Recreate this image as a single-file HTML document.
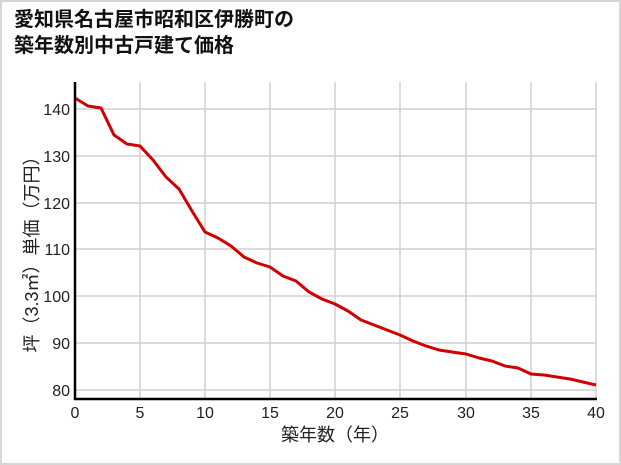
<!DOCTYPE html>
<html><head><meta charset="utf-8"><style>
body{margin:0;background:#fff}
.wrap{position:relative;width:621px;height:465px;box-sizing:border-box;border:2px solid #d6d6d6;background:#fff;overflow:hidden}
.t{position:absolute;left:12px;top:5px;font:bold 20px/26px "Liberation Sans","Noto Sans CJK JP",sans-serif;color:#111}
</style></head><body><div class="wrap">
<div class="t">愛知県名古屋市昭和区伊勝町の<br>築年数別中古戸建て価格</div>
<svg width="621" height="465" style="position:absolute;left:-2px;top:-2px" font-family="Liberation Sans, Noto Sans CJK JP, sans-serif">
<g stroke="#d0d0d0" stroke-width="1.5">
<line x1="75" x2="596" y1="109" y2="109"/><line x1="75" x2="596" y1="156" y2="156"/><line x1="75" x2="596" y1="203" y2="203"/><line x1="75" x2="596" y1="249" y2="249"/><line x1="75" x2="596" y1="296" y2="296"/><line x1="75" x2="596" y1="343" y2="343"/><line x1="75" x2="596" y1="390" y2="390"/>
<line x1="140" x2="140" y1="82" y2="399"/><line x1="205" x2="205" y1="82" y2="399"/><line x1="270" x2="270" y1="82" y2="399"/><line x1="335" x2="335" y1="82" y2="399"/><line x1="400" x2="400" y1="82" y2="399"/><line x1="466" x2="466" y1="82" y2="399"/><line x1="531" x2="531" y1="82" y2="399"/><line x1="596" x2="596" y1="82" y2="399"/>
</g>
<polyline fill="none" stroke="#d00000" stroke-width="3" stroke-linejoin="round" points="75,98 88,106 101,108 114,135 127,144 140,146 153,160 166,177 179,189 192,211 205,232 218,238 231,246 244,257 257,263 270,267 283,276 296,281 309,292 322,299 335,304 348,311 361,320 374,325 387,330 400,335 413,341 426,346 439,350 452,352 466,354 479,358 492,361 505,366 518,368 531,374 544,375 557,377 570,379 583,382 596,385"/>
<line x1="75" y1="82" x2="75" y2="400" stroke="#000" stroke-width="2.5"/>
<line x1="74" y1="399" x2="597" y2="399" stroke="#000" stroke-width="2.5"/>
<g font-size="16" fill="#222" text-anchor="end">
<text x="70" y="115">140</text><text x="70" y="162">130</text><text x="70" y="209">120</text><text x="70" y="255">110</text><text x="70" y="302">100</text><text x="70" y="349">90</text><text x="70" y="396">80</text></g>
<g font-size="16" fill="#222" text-anchor="middle">
<text x="75" y="418">0</text><text x="140" y="418">5</text><text x="205" y="418">10</text><text x="270" y="418">15</text><text x="335" y="418">20</text><text x="400" y="418">25</text><text x="466" y="418">30</text><text x="531" y="418">35</text><text x="596" y="418">40</text>
<text x="335" y="441" font-size="18">築年数（年）</text>
<text transform="translate(38,250) rotate(-90)" font-size="18">坪（3.3㎡）単価（万円）</text>
</g>
</svg></div></body></html>
